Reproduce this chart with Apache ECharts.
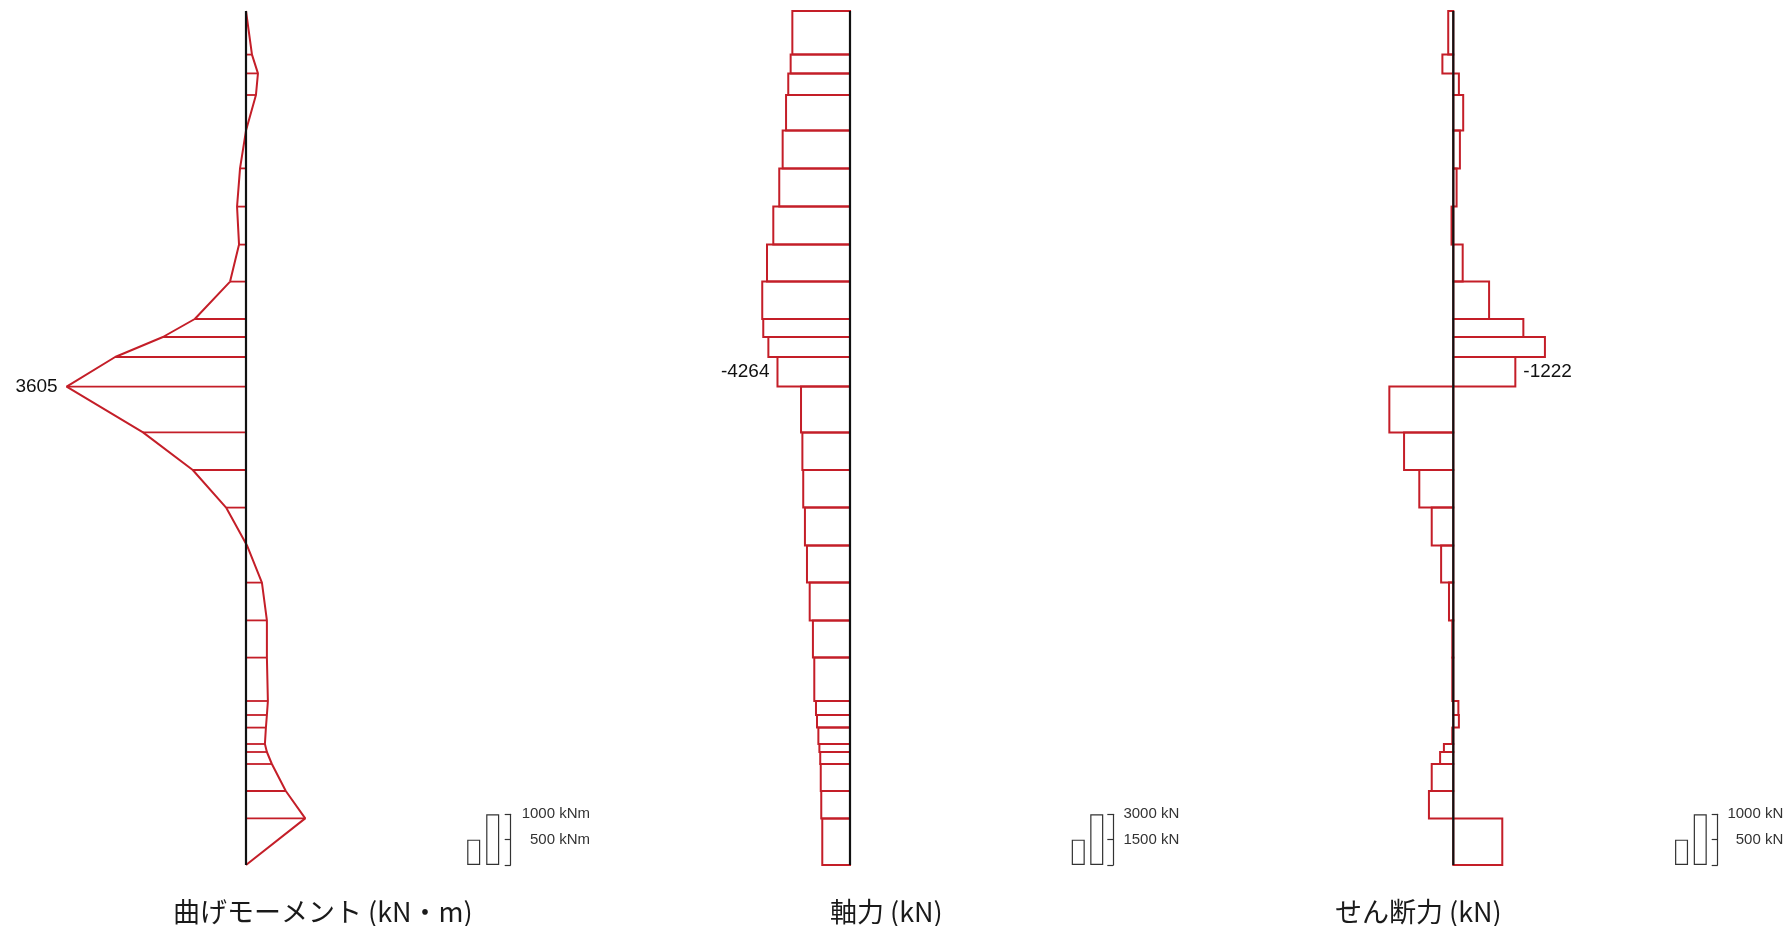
<!DOCTYPE html>
<html><head><meta charset="utf-8">
<script src="https://cdn.jsdelivr.net/npm/echarts@6/dist/echarts.min.js"></script>
<style>html,body{margin:0;padding:0;background:#fff}#c{width:1789px;height:926px}</style>
</head><body><div id="c"></div>
<script>
// ---- data ----
// node depths along the member (m), top to bottom
const nodeDepth = [0, 2.18, 3.12, 4.2, 5.98, 7.87, 9.78, 11.68, 13.53, 15.4, 16.3, 17.3, 18.78, 21.07, 22.95, 24.83, 26.72, 28.58, 30.47, 32.33, 34.5, 35.2, 35.83, 36.65, 37.05, 37.65, 39.0, 40.37, 42.7];
// bending moment at each node (kN·m)
const momentValues = [0, -120, -240, -200, 0, 120, 180, 140, 320, 1030, 1670, 2630, 3605, 2070, 1070, 400, -20, -320, -420, -420, -440, -420, -400, -380, -420, -520, -800, -1190, 0];
// axial force per element (kN)
const axialValues = [-3390, -3490, -3630, -3760, -3960, -4160, -4510, -4880, -5160, -5100, -4800, -4264, -2880, -2800, -2750, -2650, -2530, -2370, -2180, -2100, -2000, -1940, -1860, -1800, -1750, -1720, -1690, -1630];
// shear force per element (kN)
const shearValues = [100, 215, -110, -195, -130, -65, 35, -185, -705, -1380, -1805, -1222, 1260, 970, 670, 425, 240, 85, 20, 20, -100, -110, 20, 185, 260, 425, 480, -965];
// scale legends
const legendValues = [[500, 1000], [1500, 3000], [500, 1000]];
const legendUnits = ['kNm', 'kN', 'kN'];
const titles = ['曲げモーメント (kN・m)', '軸力 (kN)', 'せん断力 (kN)'];

// ---- styling / layout ----
const RED = '#c41e28';
const BLACK = '#111';
const depthMax = nodeDepth[nodeDepth.length - 1];
const peakIdx = momentValues.reduce((b, v, i, a) => Math.abs(v) > Math.abs(a[b]) ? i : b, 0);
const labelFont = '19px "Liberation Sans", Arial, sans-serif';

const diag = [
  {left: 46, range: 4020, inverse: true},
  {left: 650, range: 11760, inverse: false},
  {left: 1253.3, range: 3940, inverse: true}
];
const leg = [
  {left: 464.2, width: 38, offset: 8.5, margin: 79.3},
  {left: 1069, width: 37, offset: 7.3, margin: 66},
  {left: 1672.2, width: 37.4, offset: 8.1, margin: 65.6}
];

const grid = [], xAxis = [], yAxis = [], series = [];
diag.forEach((d, i) => {
  grid.push({left: d.left, width: 400, top: 11, height: 854});
  xAxis.push({gridIndex: i, type: 'value', min: -d.range, max: d.range, inverse: d.inverse, show: false});
  yAxis.push({gridIndex: i, type: 'value', min: 0, max: depthMax, inverse: true, show: false});
});
leg.forEach((l, k) => {
  const gi = 3 + k;
  const vals = legendValues[k];
  grid.push({left: l.left, width: l.width, top: 814.3, height: 50.7});
  xAxis.push({gridIndex: gi, type: 'category', data: vals.map(String), show: false});
  yAxis.push({gridIndex: gi, type: 'value', min: 0, max: vals[1], interval: vals[0], position: 'right', offset: l.offset,
    axisLine: {show: true, lineStyle: {color: '#333', width: 1.2}},
    axisTick: {show: true, inside: true, length: 6, lineStyle: {color: '#333', width: 1.2}},
    splitLine: {show: false},
    axisLabel: {show: true, margin: l.margin, align: 'right', color: '#333', fontSize: 15, fontFamily: '"Liberation Sans", Arial, sans-serif',
      formatter: v => v === 0 ? '' : v + ' ' + legendUnits[k]}
  });
  series.push({type: 'bar', xAxisIndex: gi, yAxisIndex: gi, data: vals, barWidth: 13,
    itemStyle: {color: '#fff', borderColor: '#333', borderWidth: 1.2}, silent: true});
});

// moment: hatch lines at nodes
series.push({
  type: 'custom', xAxisIndex: 0, yAxisIndex: 0, z: 2,
  data: nodeDepth.map((d, i) => [momentValues[i], d]),
  encode: {x: 0, y: 1},
  renderItem: (params, api) => {
    const p0 = api.coord([0, api.value(1)]);
    const p1 = api.coord([api.value(0), api.value(1)]);
    const children = [{type: 'line', shape: {x1: p0[0], y1: p0[1], x2: p1[0], y2: p1[1]}, style: {stroke: RED, lineWidth: 1.8}}];
    if (params.dataIndex === peakIdx) {
      children.push({type: 'text', style: {x: p1[0] - 9, y: p1[1], text: String(api.value(0)), font: labelFont, fill: BLACK, align: 'right', verticalAlign: 'middle'}});
    }
    return {type: 'group', children};
  }
});
// moment outline
series.push({type: 'line', xAxisIndex: 0, yAxisIndex: 0, z: 3, symbol: 'none',
  data: nodeDepth.map((d, i) => [momentValues[i], d]),
  lineStyle: {color: RED, width: 2}});

// element rectangles (axial, shear)
function rectSeries(idx, values, labelSide) {
  return {
    type: 'custom', xAxisIndex: idx, yAxisIndex: idx, z: 2,
    data: values.map((v, i) => [v, nodeDepth[i], nodeDepth[i + 1]]),
    encode: {x: 0, y: [1, 2]},
    renderItem: (params, api) => {
      const a = api.coord([api.value(0), api.value(1)]);
      const b = api.coord([0, api.value(2)]);
      const x = Math.min(a[0], b[0]), y = Math.min(a[1], b[1]);
      const children = [{type: 'rect', shape: {x, y, width: Math.abs(a[0] - b[0]), height: Math.abs(a[1] - b[1])},
        style: {stroke: RED, fill: null, lineWidth: 2}}];
      if (params.dataIndex === peakIdx - 1) {
        const outer = labelSide === 'left' ? x - 8 : x + Math.abs(a[0] - b[0]) + 8;
        children.push({type: 'text', style: {x: outer, y: (a[1] + b[1]) / 2, text: String(api.value(0)), font: labelFont, fill: BLACK,
          align: labelSide === 'left' ? 'right' : 'left', verticalAlign: 'middle'}});
      }
      return {type: 'group', children};
    }
  };
}
series.push(rectSeries(1, axialValues, 'left'));
series.push(rectSeries(2, shearValues, 'right'));

// member axis lines
[0, 1, 2].forEach(i => series.push({type: 'line', xAxisIndex: i, yAxisIndex: i, z: 10, symbol: 'none',
  data: [[0, 0], [0, depthMax]], lineStyle: {color: BLACK, width: 2.2}}));

const titleLeft = [173, 830, 1335];
const title = titles.map((t, i) => ({text: t, left: titleLeft[i], top: 897, padding: 0,
  textStyle: {fontSize: 27, lineHeight: 30, fontWeight: 'normal', color: '#1a1a1a', fontFamily: '"Noto Sans CJK JP", sans-serif'}}));

const chart = echarts.init(document.getElementById('c'), null, {renderer: 'canvas'});
chart.setOption({animation: false, backgroundColor: '#fff', title, grid, xAxis, yAxis, series});
</script></body></html>
